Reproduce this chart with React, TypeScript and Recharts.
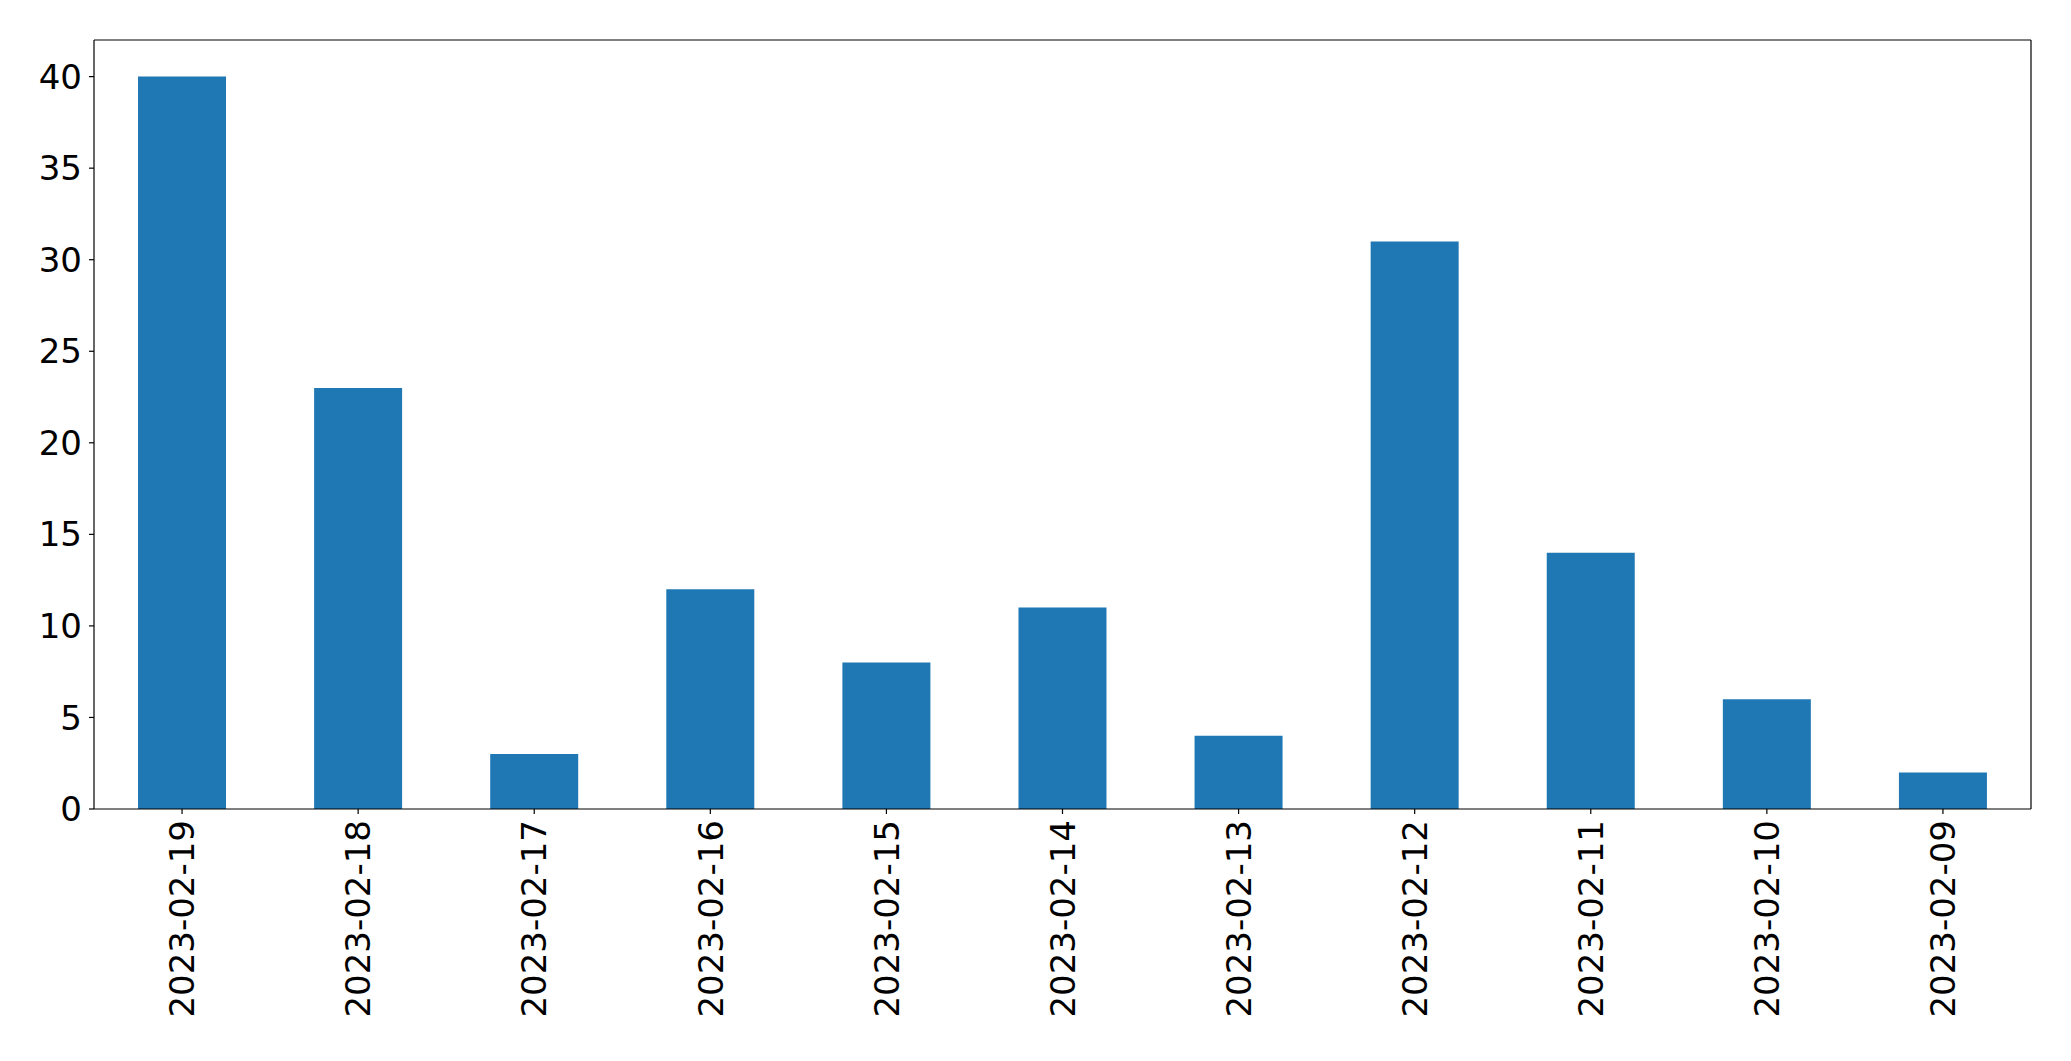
import { BarChart, Bar, XAxis, YAxis } from 'recharts'

const dates = [
  '2023-02-19', '2023-02-18', '2023-02-17', '2023-02-16', '2023-02-15', '2023-02-14',
  '2023-02-13', '2023-02-12', '2023-02-11', '2023-02-10', '2023-02-09',
]
const counts = [40, 23, 3, 12, 8, 11, 4, 31, 14, 6, 2]
const yTicks = [0, 5, 10, 15, 20, 25, 30, 35, 40]

const data = dates.map((date, i) => ({ date, count: counts[i] }))

const FONT = 'DejaVu Sans, sans-serif'

function DateTick(props: any) {
  const { x, y, payload } = props
  const ty = y + 4
  return (
    <text
      x={x}
      y={ty}
      transform={`rotate(-90, ${x}, ${ty})`}
      textAnchor="end"
      dy="0.36em"
      fontSize={34}
      fontFamily={FONT}
      fill="#000"
    >
      {payload.value}
    </text>
  )
}

export default function App() {
  return (
    <div style={{ position: 'absolute', left: 0, top: 0, background: '#fff' }}>
      <BarChart
        width={2071}
        height={1061}
        data={data}
        margin={{ top: 39, right: 39, bottom: 0, left: 0 }}
        barCategoryGap="25%"
      >
        <XAxis
          dataKey="date"
          interval={0}
          tick={<DateTick />}
          tickSize={5}
          tickLine={{ stroke: '#000', strokeWidth: 1.2 }}
          axisLine={{ stroke: '#000', strokeWidth: 1.2 }}
          height={252}
        />
        <XAxis
          xAxisId="top"
          orientation="top"
          dataKey="date"
          height={1}
          tick={false}
          tickLine={false}
          axisLine={{ stroke: '#000', strokeWidth: 1.2 }}
        />
        <YAxis
          domain={[0, 42]}
          ticks={yTicks}
          width={94}
          tickSize={5}
          tickMargin={7}
          tickLine={{ stroke: '#000', strokeWidth: 1.2 }}
          axisLine={{ stroke: '#000', strokeWidth: 1.2 }}
          tick={{ fontSize: 34, fontFamily: FONT, fill: '#000' }}
        />
        <YAxis
          yAxisId="right"
          orientation="right"
          domain={[0, 42]}
          width={1}
          tick={false}
          tickLine={false}
          axisLine={{ stroke: '#000', strokeWidth: 1.2 }}
        />
        <Bar dataKey="count" fill="#1f77b4" isAnimationActive={false} />
      </BarChart>
    </div>
  )
}
